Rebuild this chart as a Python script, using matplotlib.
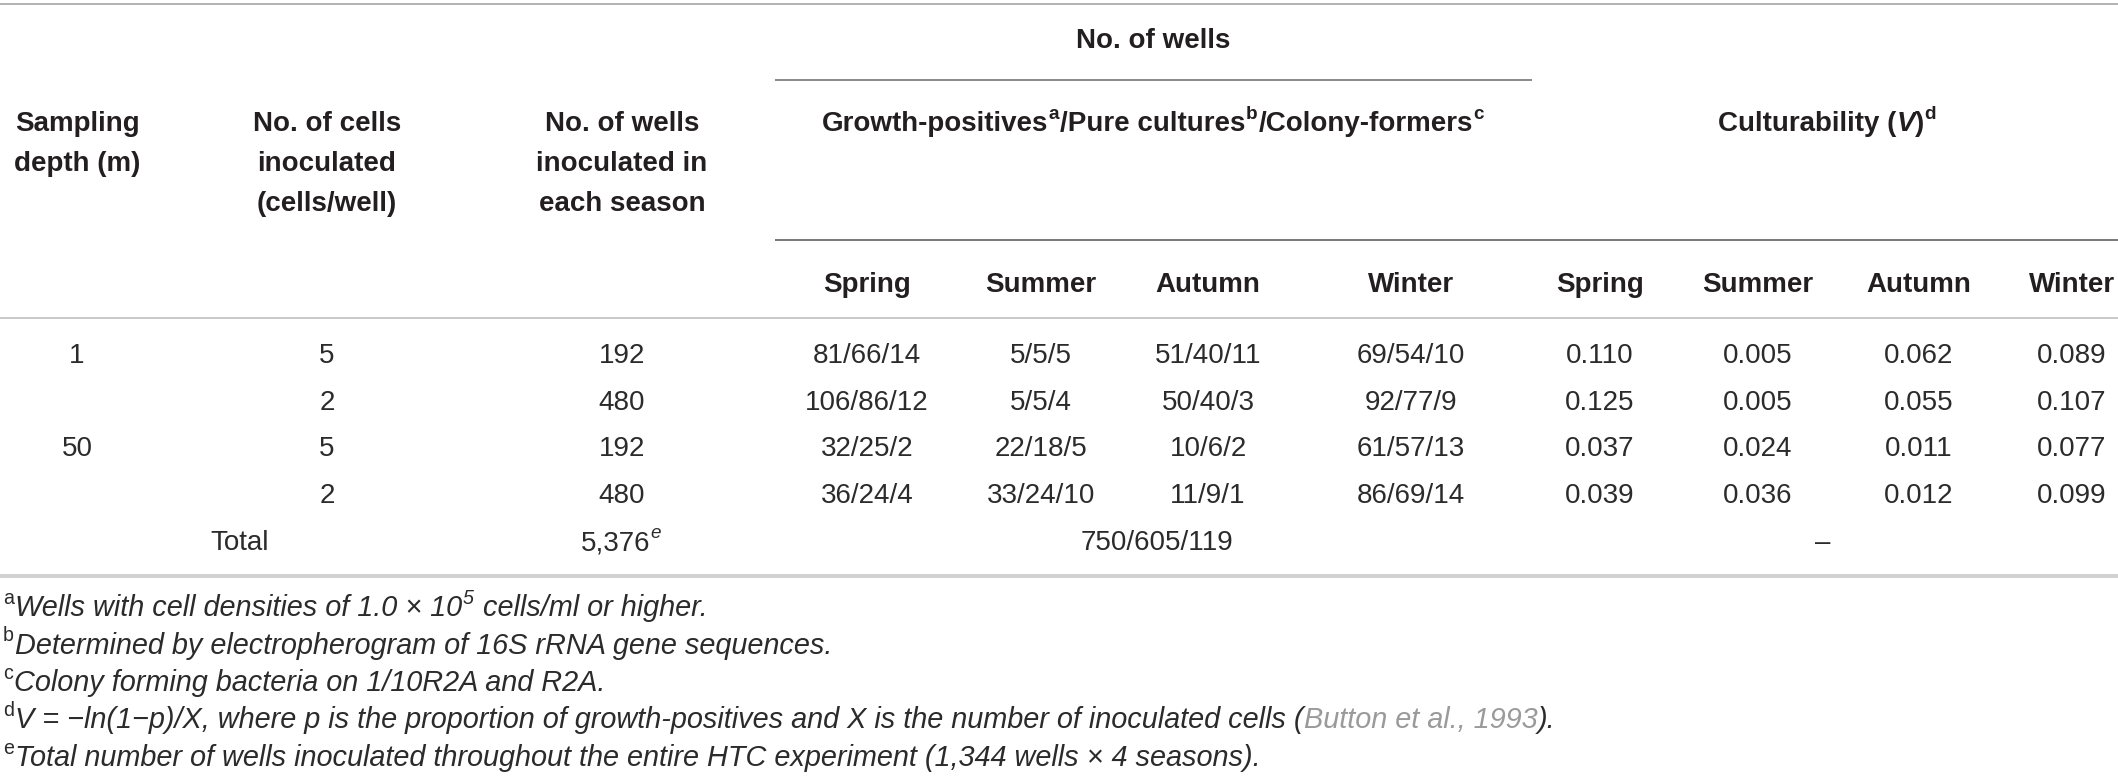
import matplotlib
matplotlib.use("Agg")
import matplotlib.pyplot as plt

# ── Data ─────────────────────────────────────────────────────
depths = ["1", "", "50", ""]
cells_per_well = ["5", "2", "5", "2"]
wells_per_season = ["192", "480", "192", "480"]
seasons = ["Spring", "Summer", "Autumn", "Winter"]

growth = {
    "Spring": ["81/66/14", "106/86/12", "32/25/2", "36/24/4"],
    "Summer": ["5/5/5", "5/5/4", "22/18/5", "33/24/10"],
    "Autumn": ["51/40/11", "50/40/3", "10/6/2", "11/9/1"],
    "Winter": ["69/54/10", "92/77/9", "61/57/13", "86/69/14"],
}
culturability = {
    "Spring": [0.110, 0.125, 0.037, 0.039],
    "Summer": [0.005, 0.005, 0.024, 0.036],
    "Autumn": [0.062, 0.055, 0.011, 0.012],
    "Winter": [0.089, 0.107, 0.077, 0.099],
}
total_wells = "5,376"
total_growth = "750/605/119"
total_v = "–"

footnotes = [
    ("a", [{"s": "Wells with cell densities of 1.0 × 10"}, {"s": "5", "sup": True},
           {"s": "cells/ml or higher.", "pad": True}]),
    ("b", [{"s": "Determined by electropherogram of 16S rRNA gene sequences."}]),
    ("c", [{"s": "Colony forming bacteria on 1/10R2A and R2A."}]),
    ("d", [{"s": "V = −ln(1−p)/X, where p is the proportion of growth-positives and X is the number of inoculated cells ("},
           {"s": "Button et al., 1993", "color": "#9a9a9a"}, {"s": ")."}]),
    ("e", [{"s": "Total number of wells inoculated throughout the entire HTC experiment (1,344 wells × 4 seasons)."}]),
]

# ── Layout (pixels) ──────────────────────────────────────────
W, H, DPI = 2118, 778, 100
FS = 20
FS_NOTE = 20.8
TEXT = "#231f20"
DATA = "#2b2b2b"

col_depth, col_cells, col_wells = 77, 327, 622
col_growth = [867, 1041, 1208, 1411]
col_v = [1600, 1758, 1919, 2072]
span_growth = (775, 1532)
head_y = [131, 171, 211]
row_y = [353, 399.5, 446, 493, 540]
note_y = [607, 644.5, 682, 719.5, 757]

plt.rcParams["font.family"] = ["Liberation Sans", "DejaVu Sans"]

fig = plt.figure(figsize=(W / DPI, H / DPI), dpi=DPI)
ax = fig.add_axes([0, 0, 1, 1])
ax.set_xlim(0, W)
ax.set_ylim(H, 0)
ax.axis("off")
renderer = fig.canvas.get_renderer()


def draw_runs(x, y, runs, ha="center", size=FS, color=TEXT, weight="normal", style="normal"):
    """Draw a line of mixed-style text runs; y is the baseline in pixels."""
    objs, widths = [], []
    for r in runs:
        sup = r.get("sup", False)
        fs = size * (0.68 if sup else 1.0)
        dy = size * 0.42 * DPI / 72 if sup else 0
        t = ax.text(0, y - dy, r["s"], fontsize=fs, va="baseline", ha="left",
                    weight=r.get("weight", weight), style=r.get("style", style),
                    color=r.get("color", color))
        objs.append(t)
        pad = size * 0.278 * DPI / 72 if r.get("pad") else 0
        extra = size * 0.05 * DPI / 72 if sup else 0
        widths.append((pad, t.get_window_extent(renderer).width + extra))
    total = sum(p + w for p, w in widths)
    pos = x - total / 2 if ha == "center" else x
    for t, (p, w) in zip(objs, widths):
        pos += p
        t.set_x(pos)
        pos += w


def cell(x, y, s, **kw):
    ax.text(x, y + 10, s, fontsize=FS, ha="center", va="baseline", **kw)


def hline(y, x0, x1, color, px):
    ax.plot([x0, x1], [y, y], color=color, lw=px * 72 / DPI, solid_capstyle="butt")


# ── Rules ────────────────────────────────────────────────────
hline(4, 0, W, "#b4b4b4", 2)
hline(80, span_growth[0], span_growth[1], "#8c8c8c", 2)
hline(240, span_growth[0], W, "#7a7a7a", 2)
hline(318, 0, W, "#b8b8b8", 1.5)
hline(576, 0, W, "#d2d2d2", 4)

# ── Header ───────────────────────────────────────────────────
bold = dict(weight="bold", color=TEXT)
draw_runs(sum(span_growth) / 2, 48, [{"s": "No. of wells"}], **bold)

for i, line in enumerate(["Sampling", "depth (m)"]):
    draw_runs(col_depth, head_y[i], [{"s": line}], **bold)
for i, line in enumerate(["No. of cells", "inoculated", "(cells/well)"]):
    draw_runs(col_cells, head_y[i], [{"s": line}], **bold)
for i, line in enumerate(["No. of wells", "inoculated in", "each season"]):
    draw_runs(col_wells, head_y[i], [{"s": line}], **bold)

draw_runs(sum(span_growth) / 2, head_y[0],
          [{"s": "Growth-positives"}, {"s": "a", "sup": True},
           {"s": "/Pure cultures"}, {"s": "b", "sup": True},
           {"s": "/Colony-formers"}, {"s": "c", "sup": True}], **bold)
draw_runs(1828, head_y[0],
          [{"s": "Culturability ("}, {"s": "V", "style": "italic"}, {"s": ")"},
           {"s": "d", "sup": True}], **bold)

for s, xg, xv in zip(seasons, col_growth, col_v):
    draw_runs(xg, 292, [{"s": s}], **bold)
    draw_runs(xv, 292, [{"s": s}], **bold)

# ── Body ─────────────────────────────────────────────────────
for i in range(4):
    y = row_y[i]
    if depths[i]:
        cell(col_depth, y, depths[i], color=DATA)
    cell(col_cells, y, cells_per_well[i], color=DATA)
    cell(col_wells, y, wells_per_season[i], color=DATA)
    for s, xg, xv in zip(seasons, col_growth, col_v):
        cell(xg, y, growth[s][i], color=DATA)
        cell(xv, y, f"{culturability[s][i]:.3f}", color=DATA)

yt = row_y[4]
cell(240, yt, "Total", color=DATA)
draw_runs(col_wells, yt + 10, [{"s": total_wells}, {"s": "e", "sup": True, "style": "italic"}],
          color=DATA)
cell(sum(span_growth) / 2 + 3, yt, total_growth, color=DATA)
cell(1823, yt, total_v, color=DATA)

# ── Footnotes ────────────────────────────────────────────────
for (mark, runs), y in zip(footnotes, note_y):
    draw_runs(3, y + 9, [{"s": mark, "sup": True, "style": "normal"}] + runs,
              ha="left", size=FS_NOTE, style="italic", color="#2b2b2b")

fig.savefig("out.png", dpi=DPI)
